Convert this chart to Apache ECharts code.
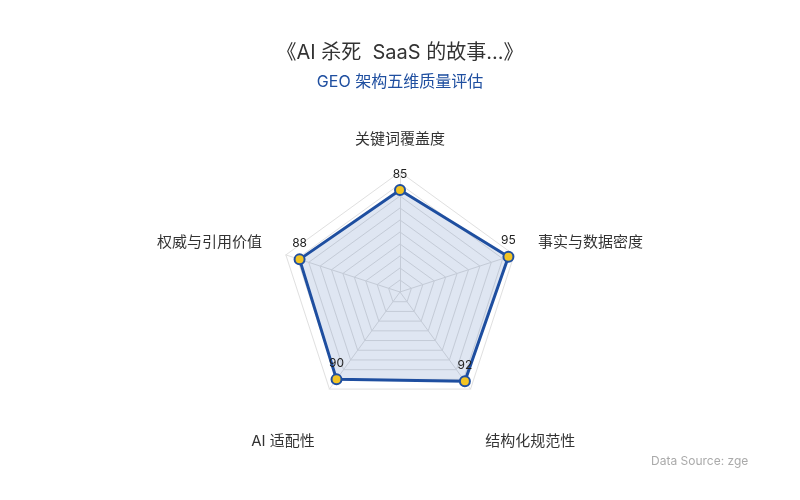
<!DOCTYPE html>
<html>
<head>
<meta charset="utf-8">
<title>GEO 架构五维质量评估</title>
<script src="https://cdn.jsdelivr.net/npm/echarts@6/dist/echarts.min.js"></script>
<style>
  html, body { margin: 0; padding: 0; background: #fff; }
  #chart { width: 800px; height: 500px; }
</style>
</head>
<body>
<div id="chart"></div>
<script>
// Dimensions listed counter-clockwise from the top (ECharts radar order)
const dimensions = ['关键词覆盖度', '权威与引用价值', 'AI 适配性', '结构化规范性', '事实与数据密度'];
const maxScores = [100, 100, 100, 100, 100];
const scores = [85, 88, 90, 92, 95];

// which names sit at the bottom / sides of the pentagon (label nudges)
const bottomNames = ['AI 适配性', '结构化规范性'];
const sideNames = ['权威与引用价值', '事实与数据密度'];

const chart = echarts.init(document.getElementById('chart'));

chart.setOption({
  backgroundColor: '#fff',
  textStyle: { fontFamily: 'Inter, "Noto Sans CJK SC", sans-serif' },
  title: {
    text: '《AI 杀死  SaaS 的故事...》',
    subtext: 'GEO 架构五维质量评估',
    left: 'center',
    top: 38,
    itemGap: 11,
    textStyle: { fontSize: 20, fontWeight: 'normal', color: '#333' },
    subtextStyle: { fontSize: 16, color: '#1f4fa0' }
  },
  graphic: [{
    type: 'text',
    left: 651,
    top: 455,
    style: { text: 'Data Source: zge', fill: '#aaa', fontSize: 12, fontFamily: 'Inter, sans-serif' }
  }],
  radar: {
    center: [400, 292],
    radius: 120,
    splitNumber: 10,
    indicator: dimensions.map((name, i) => ({ name, max: maxScores[i], min: 0 })),
    nameGap: 25,
    axisName: {
      color: '#333',
      fontSize: 15,
      formatter: name => {
        if (bottomNames.includes(name)) return '{b|' + name + '}';
        if (sideNames.includes(name)) return '{s|' + name + '}';
        return name;
      },
      rich: {
        b: { color: '#333', fontSize: 15, padding: [64, 0, 0, 0] },
        s: { color: '#333', fontSize: 15, padding: [0, 0, 10, 0] }
      }
    },
    splitLine: { lineStyle: { color: '#e0e0e0', width: 1 } },
    splitArea: { show: false },
    axisLine: { lineStyle: { color: '#e0e0e0' } }
  },
  series: [{
    type: 'radar',
    data: [{
      value: scores,
      name: 'GEO 质量评分'
    }],
    symbol: 'circle',
    symbolSize: 10,
    lineStyle: { color: '#1f4fa0', width: 3 },
    itemStyle: { color: '#f2c424', borderColor: '#1f4fa0', borderWidth: 2 },
    areaStyle: { color: 'rgba(31, 79, 160, 0.2)' },
    label: { show: true, position: 'top', color: '#222', fontSize: 12, distance: 4 }
  }]
});
</script>
</body>
</html>
